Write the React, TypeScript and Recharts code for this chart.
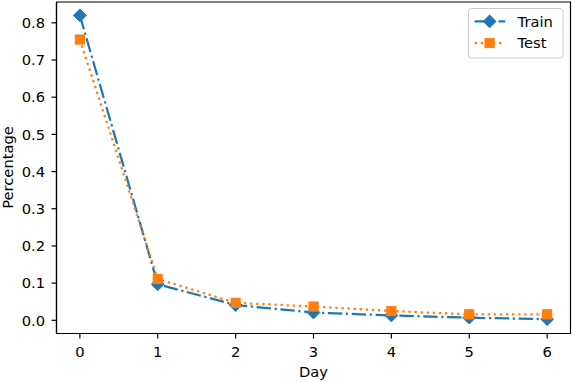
import React from 'react';
import { LineChart, Line, XAxis, YAxis, Legend, Label, ReferenceArea } from 'recharts';

const days = [0, 1, 2, 3, 4, 5, 6];
const trainValues = [0.82, 0.097, 0.041, 0.021, 0.013, 0.007, 0.003];
const testValues = [0.755, 0.111, 0.047, 0.037, 0.025, 0.016, 0.016];
const xTicks = [0, 1, 2, 3, 4, 5, 6];
const yTicks = [0, 0.1, 0.2, 0.3, 0.4, 0.5, 0.6, 0.7, 0.8];
const seriesNames = ['Train', 'Test'];

const data = days.map((d, i) => ({ day: d, train: trainValues[i], test: testValues[i] }));

const BLUE = '#1f77b4';
const ORANGE = '#ff7f0e';
const FONT = 'DejaVu Sans';
const FS = 14.7;
const DASHDOT = '14.4 3.6 2.25 3.6';
const DOTTED = '2.3 3.8';
const X_DOMAIN: [number, number] = [-0.3, 6.3];
const Y_DOMAIN: [number, number] = [-0.0355, 0.856];

const Diamond = (props: any) => {
  const { cx, cy } = props;
  if (cx == null || cy == null) return null;
  const r = 6.4;
  return (
    <polygon
      points={`${cx},${cy - r} ${cx + r},${cy} ${cx},${cy + r} ${cx - r},${cy}`}
      fill={BLUE}
      stroke={BLUE}
      strokeWidth={1}
    />
  );
};

const Square = (props: any) => {
  const { cx, cy } = props;
  if (cx == null || cy == null) return null;
  const h = 4.6;
  return <rect x={cx - h} y={cy - h} width={2 * h} height={2 * h} fill={ORANGE} stroke={ORANGE} strokeWidth={1} />;
};

const LegendBox = () => (
  <svg width={96} height={51} style={{ display: 'block', overflow: 'visible' }}>
    <rect x={0.5} y={0.5} width={94.5} height={49.5} rx={3} ry={3} fill="#ffffff" fillOpacity={0.8} stroke="#cccccc" strokeWidth={1} />
    <line x1={6.6} y1={13.4} x2={37.3} y2={13.4} stroke={BLUE} strokeWidth={2.25} strokeDasharray={DASHDOT} />
    <Diamond cx={21.6} cy={13.4} />
    <text x={49.6} y={18.6} fontFamily={FONT} fontSize={FS} fill="#000">{seriesNames[0]}</text>
    <line x1={6.6} y1={35} x2={37.3} y2={35} stroke={ORANGE} strokeWidth={2.25} strokeDasharray={DOTTED} />
    <Square cx={21.6} cy={35} />
    <text x={49.6} y={40.2} fontFamily={FONT} fontSize={FS} fill="#000">{seriesNames[1]}</text>
  </svg>
);

const YLabel = () => (
  <text
    x={12.5}
    y={167.5}
    transform="rotate(-90, 12.5, 167.5)"
    textAnchor="middle"
    fontFamily={FONT}
    fontSize={FS}
    fill="#000"
  >
    Percentage
  </text>
);

export default function App() {
  const tickStyle = { fontFamily: FONT, fontSize: FS, fill: '#000' };
  return (
    <div style={{ position: 'absolute', left: 0, top: 0, width: 572, height: 382, background: '#fff' }}>
      <LineChart width={572} height={382} data={data} margin={{ top: 2, right: 1.5, left: 0, bottom: 0 }}>
        <XAxis
          dataKey="day"
          type="number"
          domain={X_DOMAIN}
          ticks={xTicks}
          allowDataOverflow
          height={48.5}
          tickSize={5}
          tickMargin={8}
          tick={tickStyle}
          stroke="#000"
          axisLine={{ stroke: '#000', strokeWidth: 1.2 }}
          tickLine={{ stroke: '#000', strokeWidth: 1.2 }}
        >
          <Label value="Day" position="insideBottom" offset={5} style={{ fontFamily: FONT, fontSize: FS, fill: '#000' }} />
        </XAxis>
        <YAxis
          type="number"
          domain={Y_DOMAIN}
          ticks={yTicks}
          allowDataOverflow
          width={56.5}
          tickSize={5}
          tickMargin={6.5}
          tick={tickStyle}
          tickFormatter={(v: number) => v.toFixed(1)}
          axisLine={{ stroke: '#000', strokeWidth: 1.2 }}
          tickLine={{ stroke: '#000', strokeWidth: 1.2 }}
        >
          <Label content={<YLabel />} />
        </YAxis>
        <ReferenceArea
          x1={X_DOMAIN[0]}
          x2={X_DOMAIN[1]}
          y1={Y_DOMAIN[0]}
          y2={Y_DOMAIN[1]}
          fill="none"
          fillOpacity={0}
          stroke="#000"
          strokeWidth={1.2}
          ifOverflow="visible"
        />
        <Line
          dataKey="train"
          name={seriesNames[0]}
          stroke={BLUE}
          strokeWidth={2.25}
          strokeDasharray={DASHDOT}
          dot={<Diamond />}
          activeDot={false}
          isAnimationActive={false}
        />
        <Line
          dataKey="test"
          name={seriesNames[1]}
          stroke={ORANGE}
          strokeWidth={2.25}
          strokeDasharray={DOTTED}
          dot={<Square />}
          activeDot={false}
          isAnimationActive={false}
        />
        <Legend
          layout="horizontal"
          verticalAlign="middle"
          align="center"
          content={() => <LegendBox />}
          wrapperStyle={{ position: 'absolute', left: 467.7, top: 8.3, width: 96, height: 51 }}
        />
      </LineChart>
    </div>
  );
}
